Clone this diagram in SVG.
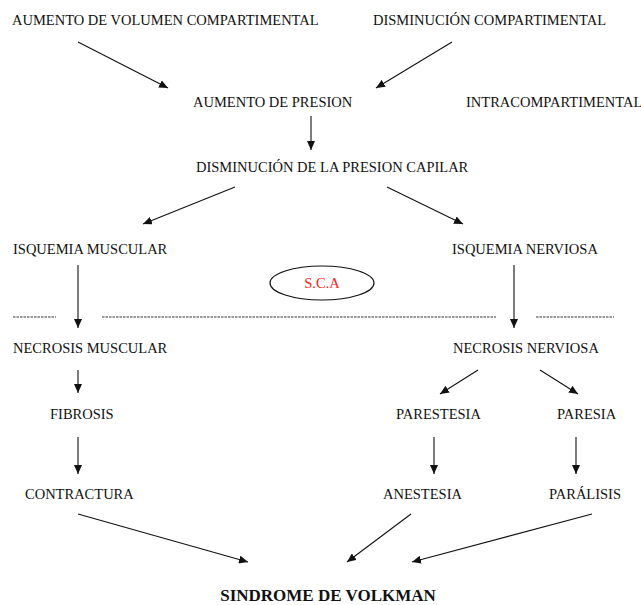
<svg xmlns="http://www.w3.org/2000/svg" width="641" height="605" viewBox="0 0 641 605">
<style>
text{font-family:"Liberation Serif","Times New Roman",serif;font-size:14.5px;fill:#111}
.b{font-weight:bold;font-size:17px}
.red{fill:#ff2020;font-size:14.5px}
.c line{stroke:#111;stroke-width:1.1;marker-end:url(#ah)}
.d{stroke:#333;stroke-width:1.1;stroke-dasharray:2.5 1}
</style>
<defs>
<marker id="ah" markerUnits="userSpaceOnUse" markerWidth="10" markerHeight="8" refX="9" refY="4" orient="auto">
<path d="M0,0 L9,4 L0,8 Z" fill="#111"/>
</marker>
</defs>
<rect width="641" height="605" fill="#fff"/>
<g id="n1"><text x="12" y="25">AUMENTO DE VOLUMEN COMPARTIMENTAL</text></g>
<g id="n2"><text x="373" y="25">DISMINUCIÓN COMPARTIMENTAL</text></g>
<g id="n3"><text x="193" y="107">AUMENTO DE PRESION</text></g>
<g id="n4"><text x="466" y="107">INTRACOMPARTIMENTAL</text></g>
<g id="n5"><text x="196" y="172">DISMINUCIÓN DE LA PRESION CAPILAR</text></g>
<g id="n6"><text x="13" y="254">ISQUEMIA MUSCULAR</text></g>
<g id="n7"><text x="452" y="254">ISQUEMIA NERVIOSA</text></g>
<g id="sca"><ellipse cx="322" cy="283" rx="52" ry="17" fill="none" stroke="#111" stroke-width="1.2"/><text class="red" x="322" y="288" text-anchor="middle">S.C.A</text></g>
<g id="dashes">
<line class="d" x1="13" y1="317" x2="56" y2="317"/>
<line class="d" x1="102" y1="317" x2="496" y2="317"/>
<line class="d" x1="536" y1="317" x2="614" y2="317"/>
</g>
<g id="n8"><text x="13" y="353">NECROSIS MUSCULAR</text></g>
<g id="n9"><text x="453" y="353">NECROSIS NERVIOSA</text></g>
<g id="n10"><text x="50" y="419">FIBROSIS</text></g>
<g id="n11"><text x="396" y="419">PARESTESIA</text></g>
<g id="n12"><text x="557" y="419">PARESIA</text></g>
<g id="n13"><text x="25" y="499">CONTRACTURA</text></g>
<g id="n14"><text x="383" y="499">ANESTESIA</text></g>
<g id="n15"><text x="549" y="499">PARÁLISIS</text></g>
<g id="n16"><text class="b" x="328" y="601" text-anchor="middle">SINDROME DE VOLKMAN</text></g>
<g id="connectors" class="c">
<line x1="78" y1="42" x2="168" y2="88"/>
<line x1="452" y1="42" x2="376" y2="88"/>
<line x1="311" y1="116" x2="311" y2="150"/>
<line x1="235" y1="187" x2="143" y2="224"/>
<line x1="387" y1="187" x2="463" y2="224"/>
<line x1="78" y1="265" x2="78" y2="328"/>
<line x1="514" y1="265" x2="514" y2="328"/>
<line x1="78" y1="370" x2="78" y2="393"/>
<line x1="78" y1="437" x2="78" y2="474"/>
<line x1="478" y1="370" x2="440" y2="394"/>
<line x1="540" y1="370" x2="578" y2="394"/>
<line x1="434" y1="437" x2="434" y2="474"/>
<line x1="576" y1="437" x2="576" y2="474"/>
<line x1="78" y1="514" x2="248" y2="562"/>
<line x1="411" y1="514" x2="347" y2="562"/>
<line x1="592" y1="514" x2="412" y2="562"/>
</g>
</svg>
